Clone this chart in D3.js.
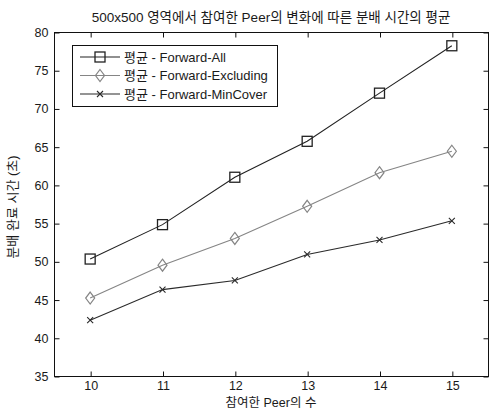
<!DOCTYPE html>
<html>
<head>
<meta charset="utf-8">
<script src="https://cdn.jsdelivr.net/npm/d3@7"></script>
<style>
  html, body { margin: 0; padding: 0; background: #fff; }
  svg { display: block; }
  text { font-family: "Liberation Sans", Arial, "Noto Sans CJK KR", sans-serif; fill: #1a1a1a; }
</style>
</head>
<body>
<svg id="chart" width="490" height="409"></svg>
<script>
// Average distribution time by number of participating peers
const peers = [10, 11, 12, 13, 14, 15];
const forwardAll = [50.3, 54.8, 61.0, 65.7, 72.0, 78.2];
const forwardExcluding = [45.2, 49.5, 53.0, 57.2, 61.6, 64.4];
const forwardMinCover = [42.3, 46.3, 47.5, 50.9, 52.8, 55.3];
const yTicks = [35, 40, 45, 50, 55, 60, 65, 70, 75, 80];
const seriesNames = ["평균 - Forward-All", "평균 - Forward-Excluding", "평균 - Forward-MinCover"];

const titleText = "500x500 영역에서 참여한 Peer의 변화에 따른 분배 시간의 평균";
const xLabel = "참여한 Peer의 수";
const yLabel = "분배 완료 시간 (초)";

const svg = d3.select("#chart");
const plotLeft = 54, plotRight = 488, plotTop = 32, plotBottom = 376;

const x = d3.scaleLinear().domain([9.5, 15.5]).range([plotLeft, plotRight]);
const y = d3.scaleLinear().domain([35, 80]).range([plotBottom, plotTop]);

const textFont = '"Liberation Sans", Arial, "Noto Sans CJK KR", sans-serif';

// Frame
svg.append("rect")
  .attr("x", plotLeft + 0.5).attr("y", plotTop + 0.5)
  .attr("width", plotRight - plotLeft).attr("height", plotBottom - plotTop)
  .attr("fill", "none").attr("stroke", "#111").attr("stroke-width", 1);

// Axes with inward ticks on all four sides
const tickLen = 5;
const gx = svg.append("g").attr("transform", `translate(0.5,${plotBottom + 0.5})`)
  .call(d3.axisBottom(x).tickValues(peers).tickSize(-tickLen).tickPadding(5).tickFormat(d3.format("d")));
const gxTop = svg.append("g").attr("transform", `translate(0.5,${plotTop + 0.5})`)
  .call(d3.axisTop(x).tickValues(peers).tickSize(-tickLen).tickFormat(""));
const gy = svg.append("g").attr("transform", `translate(${plotLeft + 0.5},0.5)`)
  .call(d3.axisLeft(y).tickValues(yTicks).tickSize(-tickLen).tickPadding(6));
const gyRight = svg.append("g").attr("transform", `translate(${plotRight + 0.5},0.5)`)
  .call(d3.axisRight(y).tickValues(yTicks).tickSize(-tickLen).tickFormat(""));

[gx, gxTop, gy, gyRight].forEach(g => {
  g.select(".domain").remove();
  g.selectAll(".tick line").attr("stroke", "#111");
  g.selectAll(".tick text")
    .attr("font-family", '"Liberation Sans", Arial, sans-serif')
    .attr("font-size", 12.5).attr("fill", "#1a1a1a");
});

// Series
const series = [
  { name: seriesNames[0], values: forwardAll, color: "#222", marker: "square" },
  { name: seriesNames[1], values: forwardExcluding, color: "#858585", marker: "diamond" },
  { name: seriesNames[2], values: forwardMinCover, color: "#2a2a2a", marker: "cross" }
];

const line = d3.line().x((d, i) => x(peers[i])).y(d => y(d));

function drawMarker(g, type, cx, cy, color) {
  if (type === "square") {
    g.append("rect").attr("x", cx - 5).attr("y", cy - 5).attr("width", 10).attr("height", 10)
      .attr("fill", "none").attr("stroke", color).attr("stroke-width", 1.3);
  } else if (type === "diamond") {
    g.append("path")
      .attr("d", `M${cx},${cy - 6}L${cx + 4.5},${cy}L${cx},${cy + 6}L${cx - 4.5},${cy}Z`)
      .attr("fill", "none").attr("stroke", color).attr("stroke-width", 1.2);
  } else {
    g.append("path")
      .attr("d", `M${cx - 3},${cy - 3}L${cx + 3},${cy + 3}M${cx - 3},${cy + 3}L${cx + 3},${cy - 3}`)
      .attr("fill", "none").attr("stroke", color).attr("stroke-width", 1.1);
  }
}

series.forEach(s => {
  const g = svg.append("g");
  g.append("path").datum(s.values).attr("d", line)
    .attr("fill", "none").attr("stroke", s.color).attr("stroke-width", 1.1);
  s.values.forEach((v, i) => drawMarker(g, s.marker, x(peers[i]), y(v), s.color));
});

// Legend
const lg = svg.append("g");
lg.append("rect").attr("x", 72.5).attr("y", 45.5).attr("width", 205).attr("height", 61)
  .attr("fill", "#fff").attr("stroke", "#111").attr("stroke-width", 1);
series.forEach((s, i) => {
  const cy = 57 + i * 18.5;
  lg.append("line").attr("x1", 80).attr("x2", 120).attr("y1", cy).attr("y2", cy)
    .attr("stroke", s.color).attr("stroke-width", 1.1);
  drawMarker(lg, s.marker, 100, cy, s.color);
  lg.append("text").attr("x", 124).attr("y", cy).attr("dy", "0.36em")
    .attr("font-size", 13).attr("font-family", textFont)
    .text(s.name);
});

// Titles
svg.append("text").attr("x", (plotLeft + plotRight) / 2).attr("y", 22)
  .attr("text-anchor", "middle").attr("font-size", 13.5)
  .attr("font-family", textFont)
  .text(titleText);
svg.append("text").attr("x", (plotLeft + plotRight) / 2).attr("y", 407)
  .attr("text-anchor", "middle").attr("font-size", 12.5)
  .attr("font-family", textFont)
  .text(xLabel);
svg.append("text")
  .attr("transform", `translate(17,${(plotTop + plotBottom) / 2 + 3}) rotate(-90)`)
  .attr("text-anchor", "middle").attr("font-size", 13)
  .attr("font-family", textFont)
  .text(yLabel);
</script>
</body>
</html>
